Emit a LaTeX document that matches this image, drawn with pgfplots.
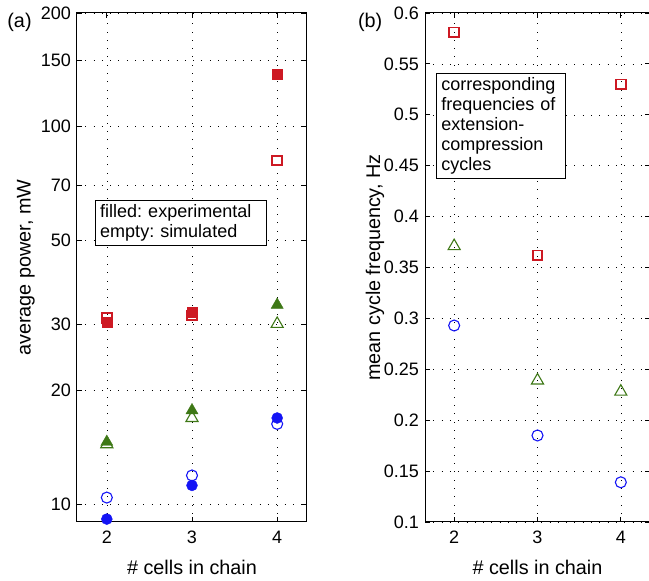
\documentclass[border=0pt]{standalone}
\usepackage{fontspec}
\setmainfont{Liberation Sans}
\usepackage{pgfplots}
\pgfplotsset{compat=1.18}

\definecolor{mred}{RGB}{205,25,35}
\definecolor{mgreen}{RGB}{62,120,22}
\definecolor{mblue}{RGB}{20,20,245}

\newcommand{\bigfont}{\fontsize{18}{20}\selectfont}
\newcommand{\labfont}{\fontsize{19.8}{22}\selectfont}

\pgfplotsset{
  panel/.style={
    scale only axis,
    anchor=south west,
    height=509pt,
    xmin=1.65, xmax=4.35,
    xtick={2,3,4},
    grid=major,
    grid style={black, line width=0.5pt, dash pattern=on 0.7pt off 7.6pt},
    tick align=inside,
    major tick length=5pt,
    axis line style={line width=1pt},
    every tick/.style={black, line width=0.8pt},
    tick label style={font=\bigfont},
    xticklabel style={yshift=-3pt},
    label style={font=\labfont},
    /pgf/number format/assume math mode=true,
    clip=false,
    minor tick num=0,
    xlabel={\# cells in chain},
    xlabel style={at={(axis description cs:0.5,-0.09)}, anchor=center},
  },
  fsq/.style={only marks, mark=square*, mark size=5pt, color=mred,
    mark options={solid}},
  esq/.style={only marks, mark=square, mark size=4.8pt, color=mred,
    mark options={line width=1.8pt, solid}},
  ftr/.style={only marks, mark=triangle*, mark size=7pt, color=mgreen,
    mark options={solid}},
  etr/.style={only marks, mark=triangle, mark size=7pt, color=mgreen,
    mark options={line width=1.1pt, solid}},
  fci/.style={only marks, mark=*, mark size=5.5pt, color=mblue,
    mark options={solid}},
  eci/.style={only marks, mark=o, mark size=5.5pt, color=mblue,
    mark options={line width=1.1pt, solid}},
}

\begin{document}
\frenchspacing
\bigfont
\begin{tikzpicture}
% (a) average power
\begin{axis}[panel,
    at={(77pt,59pt)},
    width=230pt,
    ymode=log,
    ymin=8.96, ymax=200,
    ytick={10,20,30,50,70,100,150,200},
    yticklabels={10,20,30,50,70,100,150,200},
    yminorticks=false,
    ylabel={average power, mW},
    ylabel style={at={(axis description cs:-0.222,0.5)}, anchor=center},
]
\addplot[fsq] coordinates {(2,30.3) (3,32.2) (4,138)};
\addplot[esq] coordinates {(2,31.1) (3,31.6) (4,81.3)};
\addplot[ftr] coordinates {(2,14.6) (3,17.7) (4,33.7)};
\addplot[etr] coordinates {(2,14.4) (3,16.9) (4,30.0)};
\addplot[fci] coordinates {(2,9.12) (3,11.2) (4,16.9)};
\addplot[eci] coordinates {(2,10.4) (3,11.9) (4,16.3)};
\node[draw, line width=0.6pt, fill=white, anchor=north west, align=left,
      text width=161pt, inner xsep=5pt, inner ysep=4pt, font=\bigfont]
  at (rel axis cs:0.078,0.633) {filled: experimental\\empty: simulated};
\node[font=\labfont] at (rel axis cs:-0.25,0.982) {(a)};
\end{axis}

% (b) mean cycle frequency
\begin{axis}[panel,
    at={(425pt,59pt)},
    width=225pt,
    ymin=0.1, ymax=0.6,
    ytick={0.1,0.15,0.2,0.25,0.3,0.35,0.4,0.45,0.5,0.55,0.6},
    yticklabels={0.1,0.15,0.2,0.25,0.3,0.35,0.4,0.45,0.5,0.55,0.6},
    ylabel={mean cycle frequency, Hz},
    ylabel style={at={(axis description cs:-0.222,0.5)}, anchor=center},
]
\addplot[esq] coordinates {(2,0.581) (3,0.362) (4,0.530)};
\addplot[etr] coordinates {(2,0.371) (3,0.239) (4,0.228)};
\addplot[eci] coordinates {(2,0.293) (3,0.185) (4,0.139)};
\node[draw, line width=0.6pt, fill=white, anchor=north west, align=left,
      text width=119pt, inner xsep=5pt, inner ysep=4pt, font=\bigfont]
  at (rel axis cs:0.049,0.882) {corresponding\\frequencies of\\extension-\\compression\\cycles};
\node[font=\labfont] at (rel axis cs:-0.244,0.982) {(b)};
\end{axis}
\pgfresetboundingbox
\useasboundingbox (0,0) rectangle (649pt,581pt);
\end{tikzpicture}
\end{document}
